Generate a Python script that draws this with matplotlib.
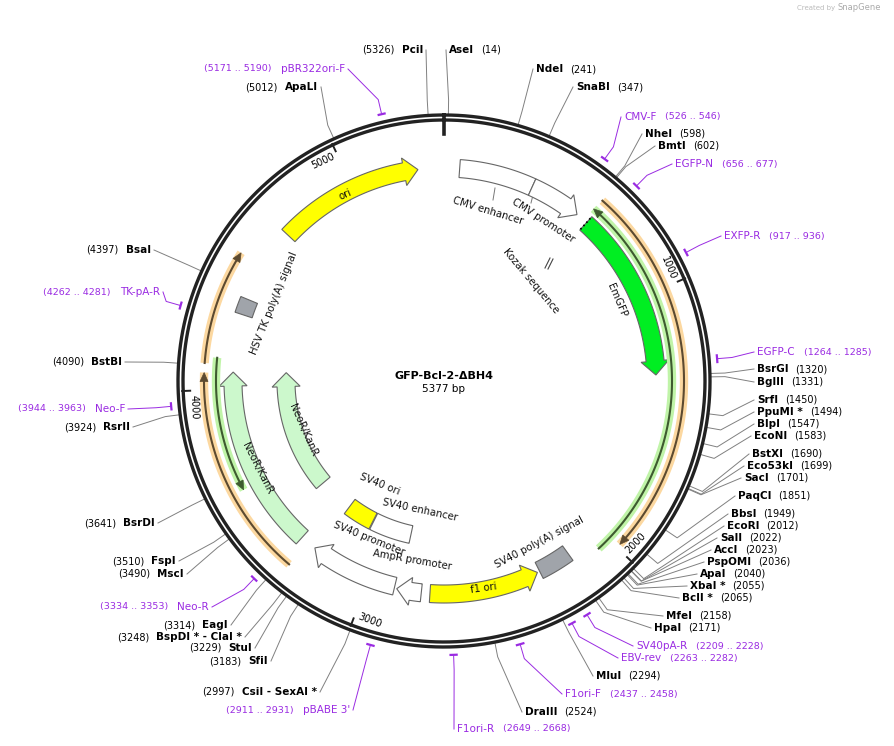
import numpy as np
import matplotlib
matplotlib.use("Agg")
import matplotlib.pyplot as plt
from matplotlib.patches import Polygon

TOTAL = 5377
TITLE = "GFP-Bcl-2-ΔBH4"

# enzyme sites: name, bp, label x, label y, side
enz_names = ["PciI","AseI","NdeI","SnaBI","NheI","BmtI","BsrGI","BglII","SrfI","PpuMI *","BlpI","EcoNI",
             "BstXI","Eco53kI","SacI","PaqCI","BbsI","EcoRI","SalI","AccI","PspOMI","ApaI","XbaI *","BclI *",
             "MfeI","HpaI","MluI","DraIII","CsiI - SexAI *","SfiI","StuI","BspDI * - ClaI *","EagI","MscI","FspI",
             "BsrDI","RsrII","BstBI","BsaI","ApaLI"]
enz_bp = [5326,14,241,347,598,602,1320,1331,1450,1494,1547,1583,1690,1699,1701,1851,1949,2012,2022,2023,2036,
          2040,2055,2065,2158,2171,2294,2524,2997,3183,3229,3248,3314,3490,3510,3641,3924,4090,4397,5012]
enz_lx = [423,449,536,576,645,658,757,757,757,757,757,754,752,747,744,738,731,727,720,714,707,700,690,682,
          666,654,596,525,317,268,252,242,228,184,176,155,130,122,151,318]
enz_ly = [50,50,69,87,134,146,369,382,400,412,424,436,454,466,478,496,514,526,538,550,562,574,586,598,
          616,628,676,712,692,661,648,637,625,574,561,523,427,362,250,87]
enz_side = ["L","R","R","R","R","R","R","R","R","R","R","R","R","R","R","R","R","R","R","R","R","R","R","R",
            "R","R","R","R","L","L","L","L","L","L","L","L","L","L","L","L"]

# primers
pr_names = ["CMV-F","EGFP-N","EXFP-R","EGFP-C","SV40pA-R","EBV-rev","F1ori-F","F1ori-R","pBABE 3'","Neo-R",
            "Neo-F","TK-pA-R","pBR322ori-F"]
pr_start = [526,656,917,1264,2209,2263,2437,2649,2911,3334,3944,4262,5171]
pr_end = [546,677,936,1285,2228,2282,2458,2668,2931,3353,3963,4281,5190]
pr_lx = [624,675,724,757,636,621,565,457,350,209,125,160,345]
pr_ly = [117,164,236,352,646,658,694,729,710,607,409,292,69]
pr_side = ["R","R","R","R","R","R","R","R","L","L","L","L","L"]

# features
feat_names = ["CMV enhancer","CMV promoter","EmGFP","ori","f1 ori","SV40 poly(A) signal","AmpR promoter",
              "SV40 promoter","SV40 enhancer","SV40 ori","NeoR/KanR","NeoR/KanR ","HSV TK poly(A) signal"]
feat_start = [63,365,627,4676,2300,2155,2780,2890,2870,3090,3319,3433,4305]
feat_end = [365,577,1320,5272,2745,2290,2880,3252,3086,3240,4069,4078,4370]
feat_r = [213,213,212,213,213,212,213,211,157,157,211,158,211]
feat_col = ["white","white","#00ee22","#ffff00","#ffff00","#a0a4aa","white","white","white","#ffff00",
            "#ccf8cc","#ccf8cc","#a0a4aa"]
feat_head = [0,1,1,1,-1,0,1,1,0,0,1,1,0]

# thin translated arrows
thin_start = [617,612,3289,4097,3607]
thin_end = [1985,2050,4063,4515,4120]
thin_r = [240,228,240,240,228]
thin_kind = ["o","g","o","o","g"]
thin_head = [1,-1,1,1,-1]

ticks = [1000,2000,3000,4000,5000]

CX, CY, R = 444, 381, 266
fig = plt.figure(figsize=(8.95,7.46), dpi=100)
ax = fig.add_axes([0,0,1,1])
ax.set_xlim(0,895); ax.set_ylim(746,0); ax.axis("off")

def ang(bp):
    return np.deg2rad(bp/TOTAL*360)
def pt(bp, r):
    a = ang(bp)
    return CX + r*np.sin(a), CY - r*np.cos(a)

th = np.linspace(0, 2*np.pi, 720)
for rr in (R, R-5):
    ax.plot(CX + rr*np.sin(th), CY - rr*np.cos(th), color="#222222", lw=2.4, zorder=3)
x1,y1 = pt(0,R-3); x2,y2 = pt(0,R-19)
ax.plot([x1,x2],[y1,y2], color="#222222", lw=2.6, zorder=4)
for t in ticks:
    x1,y1 = pt(t,R-4); x2,y2 = pt(t,R-12)
    ax.plot([x1,x2],[y1,y2], color="#222222", lw=1.4, zorder=4)
    deg = t/TOTAL*360
    rot = -deg if (deg < 90 or deg > 270) else 180-deg
    tx,ty = pt(t-55, R-15)
    ax.text(tx,ty,str(t),fontsize=7,rotation=rot,ha="center",va="center",
            rotation_mode="anchor", color="black", zorder=6)

def arc_pts(a, b, r, n=60):
    bs = np.linspace(a, b, n)
    return [pt(v, r) for v in bs]

def feature(s, e, r, col, head, w=18):
    hb = 14/(2*np.pi*r)*TOTAL
    if head == 0:
        poly = arc_pts(s,e,r+w/2) + arc_pts(e,s,r-w/2)
    elif head == 1:
        m = e - hb
        poly = arc_pts(s,m,r+w/2) + [pt(m,r+w/2+5), pt(e,r), pt(m,r-w/2-5)] + arc_pts(m,s,r-w/2)
    else:
        m = s + hb
        poly = [pt(s,r)] + [pt(m,r+w/2+5)] + arc_pts(m,e,r+w/2) + arc_pts(e,m,r-w/2) + [pt(m,r-w/2-5)]
    ax.add_patch(Polygon(poly, closed=True, facecolor=col, edgecolor="#666666", lw=0.8, zorder=5))

for s,e,r,c,h in zip(feat_start,feat_end,feat_r,feat_col,feat_head):
    feature(s,e,r,c,h)
xs = [pt(627,r) for r in (204,221)]
ax.plot([p[0] for p in xs],[p[1] for p in xs], color="black", lw=1.2, ls=":", zorder=6)

for s,e,r,k,h in zip(thin_start,thin_end,thin_r,thin_kind,thin_head):
    halo = "#fcd8a0" if k=="o" else "#c0f4a8"
    line = "#5c4a30" if k=="o" else "#3e5a30"
    hb = 9/(2*np.pi*r)*TOTAL
    P = np.array(arc_pts(s,e,r,120))
    ax.plot(P[:,0],P[:,1], color=halo, lw=6, solid_capstyle="butt", zorder=5)
    if h==1:
        Q = np.array(arc_pts(s,e-hb,r,120)); tip=pt(e,r); m=e-hb
    else:
        Q = np.array(arc_pts(s+hb,e,r,120)); tip=pt(s,r); m=s+hb
    ax.plot(Q[:,0],Q[:,1], color=line, lw=1.5, zorder=6)
    ax.add_patch(Polygon([pt(m,r+4),tip,pt(m,r-4)], closed=True, facecolor=line, edgecolor=line, lw=0.5, zorder=6))

# Kozak marker
ax.plot([545,550],[268,258], color="#444444", lw=0.8)
ax.plot([548,553],[269,259], color="#444444", lw=0.8)

flab = [("CMV enhancer",488,211,-17),("CMV promoter",543,221,-33),("Kozak sequence",531,281,-50),
        ("EmGFP",617,300,-67),("ori",345,195,24),("HSV TK poly(A) signal",274,303,68),
        ("NeoR/KanR",257,468,-63),("NeoR/KanR",303,430,-66),("SV40 ori",380,484,-22),
        ("SV40 enhancer",420,510,-12),("SV40 promoter",369,539,-22),("AmpR promoter",412,560,-10),
        ("f1 ori",484,588,8),("SV40 poly(A) signal",539,542,28)]
for t,x,y,r in flab:
    ax.text(x,y,t,fontsize=7.3,rotation=r,ha="center",va="center",color="#111111",zorder=8)
ax.plot([495,493],[188,200],color="#777777",lw=0.7)
ax.plot([535,531],[187,203],color="#777777",lw=0.7)

fig.canvas.draw()
rend = fig.canvas.get_renderer()
def width_px(t):
    return t.get_window_extent(rend).width

def leader(bp, lx, ly, side, col, r0=R+1):
    x0,y0 = pt(bp, r0)
    x1,y1 = pt(bp, r0+14)
    ex = lx-3 if side=="R" else lx+3
    ax.plot([x0,x1,ex],[y0,y1,ly], color=col, lw=0.7, zorder=2)

for n,bp,lx,ly,sd in zip(enz_names,enz_bp,enz_lx,enz_ly,enz_side):
    if sd=="R":
        t = ax.text(lx,ly,n,fontsize=7.5,fontweight="bold",ha="left",va="center")
        w = width_px(t)
        ax.text(lx+w+7,ly,f"({bp})",fontsize=7,ha="left",va="center")
    else:
        t = ax.text(lx,ly,n,fontsize=7.5,fontweight="bold",ha="right",va="center")
        w = width_px(t)
        ax.text(lx-w-7,ly,f"({bp})",fontsize=7,ha="right",va="center")
    leader(bp,lx,ly,sd,"#808080")

PUR = "#9a2be2"
for n,s,e,lx,ly,sd in zip(pr_names,pr_start,pr_end,pr_lx,pr_ly,pr_side):
    P = np.array(arc_pts(s,e,R+8,10))
    ax.plot(P[:,0],P[:,1],color=PUR,lw=1.6,zorder=4)
    if sd=="R":
        t = ax.text(lx,ly,n,fontsize=7.5,color=PUR,ha="left",va="center")
        w = width_px(t)
        ax.text(lx+w+9,ly,f"({s} .. {e})",fontsize=6.8,color=PUR,ha="left",va="center")
    else:
        t = ax.text(lx,ly,n,fontsize=7.5,color=PUR,ha="right",va="center")
        w = width_px(t)
        ax.text(lx-w-9,ly,f"({s} .. {e})",fontsize=6.8,color=PUR,ha="right",va="center")
    leader((s+e)/2,lx,ly,sd,PUR,r0=R+9)

ax.text(CX,376,TITLE,fontsize=8,fontweight="bold",ha="center",va="center")
ax.text(CX,389,f"{TOTAL} bp",fontsize=7.5,ha="center",va="center")
ax.text(835,8,"Created by",fontsize=5,color="#bbbbbb",ha="right",va="center")
ax.text(838,8,"SnapGene",fontsize=6,color="#aaaaaa",ha="left",va="center")

fig.savefig("out.png", dpi=100)
